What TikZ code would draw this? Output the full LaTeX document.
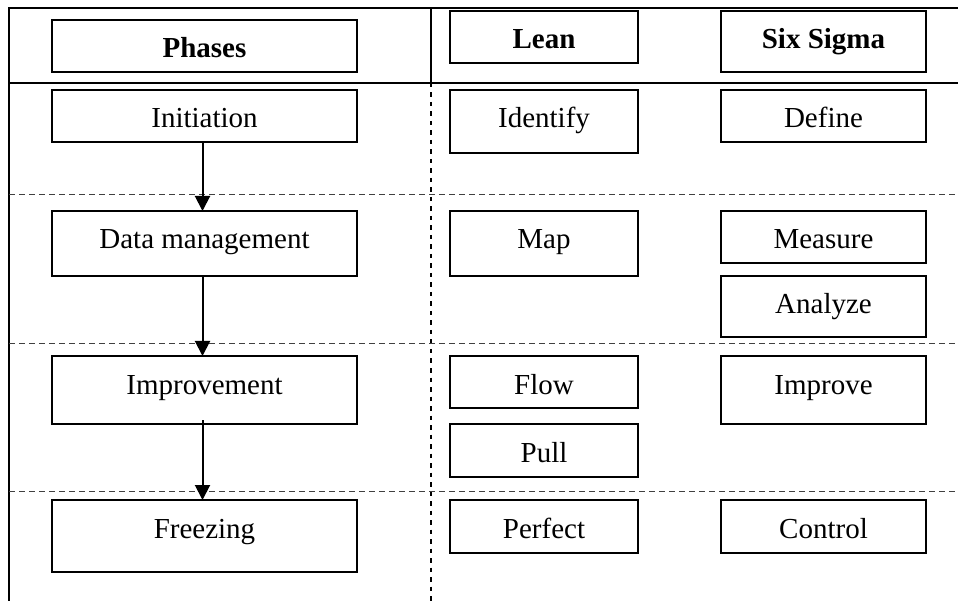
\documentclass[tikz,border=0pt]{standalone}
\usepackage{fontspec}
\setmainfont{Liberation Serif}
\usetikzlibrary{arrows.meta}
\newcommand\fsz{\fontsize{29}{34}\selectfont}
\begin{document}
\begin{tikzpicture}[x=1pt,y=-1pt,
  box/.style={draw, line width=1.8pt, inner sep=0pt, outer sep=0pt, anchor=north west, text height=38pt, font=\fsz},
  frame/.style={line width=2.2pt},
  rowsep/.style={line width=0.9pt, black!75, dash pattern=on 6pt off 4pt},
  colsep/.style={line width=2pt, dash pattern=on 4.5pt off 5pt},
  flow/.style={line width=2pt, -{Triangle[width=15pt,length=15pt]}}]
\useasboundingbox (0,0) rectangle (958,601);
% frame
\draw[frame] (958,8) -- (9,8) -- (9,601);
\draw[frame] (9,83) -- (958,83);
\draw[frame] (431,8) -- (431,83);
\draw[colsep] (431,83) -- (431,601);
\draw[rowsep] (9,194) -- (958,194);
\draw[rowsep] (9,343) -- (958,343);
\draw[rowsep] (9,491) -- (958,491);
% headers
\node[box, minimum width=305pt, text depth=14pt] (ph) at (52,20) {\bfseries Phases};
\node[box, minimum width=188pt, text depth=14pt] (le) at (450,11) {\bfseries Lean};
\node[box, minimum width=205pt, text depth=23pt] (ss) at (721,11) {\bfseries Six Sigma};
% phases
\node[box, minimum width=305pt, text depth=14pt] (ini) at (52,90) {Initiation};
\node[box, minimum width=305pt, text depth=27pt] (dat) at (52,211) {Data management};
\node[box, minimum width=305pt, text depth=30pt] (imp) at (52,356) {Improvement};
\node[box, minimum width=305pt, text depth=34pt] (fre) at (52,500) {Freezing};
% lean
\node[box, minimum width=188pt, text depth=25pt] (idf) at (450,90) {Identify};
\node[box, minimum width=188pt, text depth=27pt] (map) at (450,211) {Map};
\node[box, minimum width=188pt, text depth=14pt] (flo) at (450,356) {Flow};
\node[box, minimum width=188pt, text depth=15pt] (pul) at (450,424) {Pull};
\node[box, minimum width=188pt, text depth=15pt] (per) at (450,500) {Perfect};
% six sigma
\node[box, minimum width=205pt, text depth=14pt] (def) at (721,90) {Define};
\node[box, minimum width=205pt, text depth=14pt] (mea) at (721,211) {Measure};
\node[box, minimum width=205pt, text depth=23pt] (ana) at (721,276) {Analyze};
\node[box, minimum width=205pt, text depth=30pt] (ipv) at (721,356) {Improve};
\node[box, minimum width=205pt, text depth=15pt] (con) at (721,500) {Control};
% arrows
\draw[flow] ([xshift=-2pt]ini.south) -- ([xshift=-2pt]dat.north);
\draw[flow] ([xshift=-2pt]dat.south) -- ([xshift=-2pt]imp.north);
\draw[flow] ([xshift=-2pt,yshift=4pt]imp.south) -- ([xshift=-2pt]fre.north);
\end{tikzpicture}
\end{document}
